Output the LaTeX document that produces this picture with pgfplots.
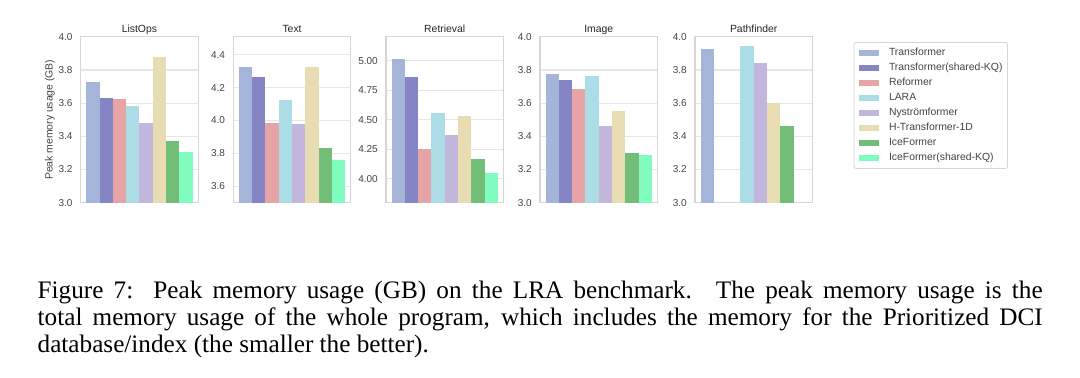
\documentclass[border=0pt]{standalone}
\usepackage{pgfplots}
\pgfplotsset{compat=1.18}
\usepackage{fontspec}
\setmainfont{Liberation Sans}
\newfontfamily\capfont{Liberation Serif}

\definecolor{c1}{HTML}{A5B5DA}
\definecolor{c2}{HTML}{8585C6}
\definecolor{c3}{HTML}{E6A4A6}
\definecolor{c4}{HTML}{ACDCE6}
\definecolor{c5}{HTML}{C3B6DC}
\definecolor{c6}{HTML}{E8DCB2}
\definecolor{c7}{HTML}{72BD78}
\definecolor{c8}{HTML}{80FCBE}
\definecolor{gridc}{HTML}{E6E6E6}
\definecolor{framec}{HTML}{D6D6D6}
\definecolor{tickc}{HTML}{444444}

\pgfplotsset{
  panel/.style={
    scale only axis, width=58.75pt, height=83pt, anchor=south west,
    xmin=-0.4415, xmax=0.4415, xtick=\empty,
    major tick length=0pt,
    ymajorgrids=true,
    grid style={color=gridc, line width=0.6pt},
    axis line style={draw=framec, line width=0.6pt},
    tick label style={font=\fontsize{5}{6}\selectfont, color=tickc},
    yticklabel shift=0.6pt,
    /pgf/number format/assume math mode=true,
    /pgf/number format/fixed, /pgf/number format/fixed zerofill,
    /pgf/number format/precision=1,
    every axis title/.style={at={(0.5,1)}, anchor=base, yshift=2.3pt, font=\fontsize{5.2}{6}\selectfont, color=black!85},
  },
  b/.style={ybar, bar width=0.1, bar shift=0pt, draw=none, fill=#1},
}

\begin{document}
\begin{tikzpicture}[x=1pt,y=1pt]
\useasboundingbox (0,0) rectangle (540,188.5);
\fill[white] (0,0) rectangle (540,188.5);

% ListOps
\begin{axis}[panel, at={(40.35pt,87.15pt)}, title={ListOps},
  ymin=3.0, ymax=4.0, ytick={3.0,3.2,3.4,3.6,3.8,4.0},
  ylabel={Peak memory usage (GB)},
  every axis y label/.style={at={(axis description cs:-0.262,0.5)}, rotate=90, anchor=center, font=\fontsize{5.2}{6}\selectfont, color=tickc}]
\addplot[b=c1] coordinates {(-0.35,3.726)};
\addplot[b=c2] coordinates {(-0.25,3.630)};
\addplot[b=c3] coordinates {(-0.15,3.622)};
\addplot[b=c4] coordinates {(-0.05,3.584)};
\addplot[b=c5] coordinates {(0.05,3.478)};
\addplot[b=c6] coordinates {(0.15,3.880)};
\addplot[b=c7] coordinates {(0.25,3.374)};
\addplot[b=c8] coordinates {(0.35,3.304)};
\end{axis}

% Text
\begin{axis}[panel, at={(116.65pt,87.15pt)}, title={Text},
  ymin=3.5, ymax=4.51, ytick={3.6,3.8,4.0,4.2,4.4}]
\addplot[b=c1] coordinates {(-0.35,4.328)};
\addplot[b=c2] coordinates {(-0.25,4.263)};
\addplot[b=c3] coordinates {(-0.15,3.982)};
\addplot[b=c4] coordinates {(-0.05,4.127)};
\addplot[b=c5] coordinates {(0.05,3.980)};
\addplot[b=c6] coordinates {(0.15,4.328)};
\addplot[b=c7] coordinates {(0.25,3.833)};
\addplot[b=c8] coordinates {(0.35,3.757)};
\end{axis}

% Retrieval
\begin{axis}[panel, at={(193pt,87.15pt)}, title={Retrieval},
  ymin=3.795, ymax=5.205, ytick={4.00,4.25,4.50,4.75,5.00},
  /pgf/number format/precision=2]
\addplot[b=c1] coordinates {(-0.35,5.017)};
\addplot[b=c2] coordinates {(-0.25,4.866)};
\addplot[b=c3] coordinates {(-0.15,4.249)};
\addplot[b=c4] coordinates {(-0.05,4.560)};
\addplot[b=c5] coordinates {(0.05,4.370)};
\addplot[b=c6] coordinates {(0.15,4.532)};
\addplot[b=c7] coordinates {(0.25,4.165)};
\addplot[b=c8] coordinates {(0.35,4.048)};
\end{axis}

% Image
\begin{axis}[panel, at={(270pt,87.15pt)}, title={Image},
  ymin=3.0, ymax=4.0, ytick={3.0,3.2,3.4,3.6,3.8,4.0}]
\addplot[b=c1] coordinates {(-0.35,3.776)};
\addplot[b=c2] coordinates {(-0.25,3.738)};
\addplot[b=c3] coordinates {(-0.15,3.684)};
\addplot[b=c4] coordinates {(-0.05,3.766)};
\addplot[b=c5] coordinates {(0.05,3.460)};
\addplot[b=c6] coordinates {(0.15,3.550)};
\addplot[b=c7] coordinates {(0.25,3.302)};
\addplot[b=c8] coordinates {(0.35,3.286)};
\end{axis}

% Pathfinder
\begin{axis}[panel, at={(347.5pt,87.15pt)}, title={Pathfinder},
  ymin=3.0, ymax=4.0, ytick={3.0,3.2,3.4,3.6,3.8,4.0},
  legend style={at={(axis description cs:1.35,0.968)}, anchor=north west,
    draw=framec, rounded corners=1pt, fill=white,
    font=\fontsize{5.2}{6}\selectfont, text=tickc,
    inner xsep=2.5pt, inner ysep=1.5pt, row sep=0pt,
    nodes={inner xsep=0pt, inner ysep=1.3pt, text height=3.8pt, text depth=1.1pt},
    /tikz/every odd column/.append style={column sep=5pt}},
  legend cell align=left,
  legend image code/.code={\fill[#1, sharp corners] (0pt,-1.5pt) rectangle (10pt,1.5pt);},
  legend entries={Transformer, Transformer(shared-KQ), Reformer, LARA, Nyströmformer, H-Transformer-1D, IceFormer, IceFormer(shared-KQ)}]
\addlegendimage{draw=none, fill=c1}
\addlegendimage{draw=none, fill=c2}
\addlegendimage{draw=none, fill=c3}
\addlegendimage{draw=none, fill=c4}
\addlegendimage{draw=none, fill=c5}
\addlegendimage{draw=none, fill=c6}
\addlegendimage{draw=none, fill=c7}
\addlegendimage{draw=none, fill=c8}
\addplot[b=c1, forget plot] coordinates {(-0.35,3.924)};
\addplot[b=c4, forget plot] coordinates {(-0.05,3.944)};
\addplot[b=c5, forget plot] coordinates {(0.05,3.840)};
\addplot[b=c6, forget plot] coordinates {(0.15,3.600)};
\addplot[b=c7, forget plot] coordinates {(0.25,3.464)};
\end{axis}

% Caption
\node[anchor=base west, inner sep=0pt] at (18.65,39.5) {\capfont\fontsize{12.6}{13.5}\selectfont\makebox[502.5pt][s]{Figure 7:\hspace{0.15em} Peak memory usage (GB) on the LRA benchmark.\hspace{0.15em} The peak memory usage is the}};
\node[anchor=base west, inner sep=0pt] at (18.65,26) {\capfont\fontsize{12.6}{13.5}\selectfont\makebox[502.5pt][s]{total memory usage of the whole program, which includes the memory for the Prioritized DCI}};
\node[anchor=base west, inner sep=0pt] at (18.65,12.5) {\capfont\fontsize{12.6}{13.5}\selectfont database/index (the smaller the better).};
\end{tikzpicture}
\end{document}
